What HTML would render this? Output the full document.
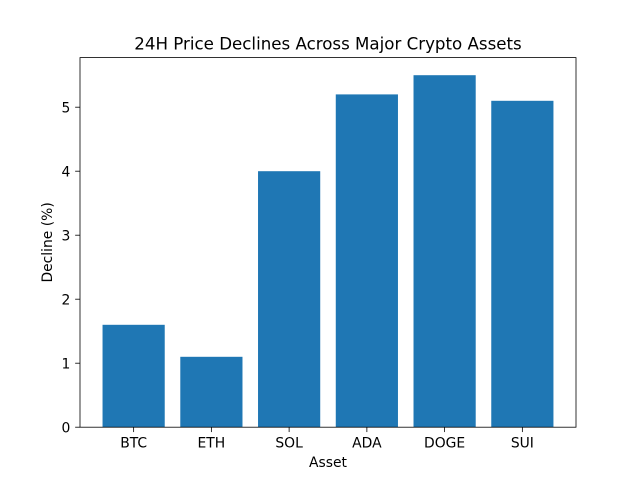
<!DOCTYPE html>
<html>
<head>
<meta charset="utf-8">
<style>
  html,body{margin:0;padding:0;background:#fff;}
  svg{display:block;}
  text{font-family:"DejaVu Sans","Liberation Sans",sans-serif;fill:#000;}
</style>
</head>
<body>
<svg width="640" height="480" viewBox="0 0 640 480" xmlns="http://www.w3.org/2000/svg">
  <rect x="0" y="0" width="640" height="480" fill="#fff"/>
  <!-- bars -->
  <g fill="#1f77b4">
    <rect x="102.54" y="324.8" width="62.19" height="102.4"/>
    <rect x="180.29" y="356.8" width="62.19" height="70.4"/>
    <rect x="258.03" y="171.2" width="62.19" height="256"/>
    <rect x="335.77" y="94.4" width="62.19" height="332.8"/>
    <rect x="413.52" y="75.2" width="62.19" height="352"/>
    <rect x="491.26" y="100.8" width="62.19" height="326.4"/>
  </g>
  <!-- axes frame -->
  <rect x="80" y="57.6" width="496" height="369.6" fill="none" stroke="#000" stroke-width="0.8"/>
  <!-- x ticks -->
  <g stroke="#000" stroke-width="0.8">
    <line x1="133.64" y1="427.2" x2="133.64" y2="432.06"/>
    <line x1="211.38" y1="427.2" x2="211.38" y2="432.06"/>
    <line x1="289.12" y1="427.2" x2="289.12" y2="432.06"/>
    <line x1="366.87" y1="427.2" x2="366.87" y2="432.06"/>
    <line x1="444.61" y1="427.2" x2="444.61" y2="432.06"/>
    <line x1="522.36" y1="427.2" x2="522.36" y2="432.06"/>
  </g>
  <g font-size="13.89" text-anchor="middle">
    <text x="133.64" y="447.5">BTC</text>
    <text x="211.38" y="447.5">ETH</text>
    <text x="289.12" y="447.5">SOL</text>
    <text x="366.87" y="447.5">ADA</text>
    <text x="444.61" y="447.5">DOGE</text>
    <text x="522.36" y="447.5">SUI</text>
  </g>
  <!-- y ticks -->
  <g stroke="#000" stroke-width="0.8">
    <line x1="75.14" y1="427.2" x2="80" y2="427.2"/>
    <line x1="75.14" y1="363.2" x2="80" y2="363.2"/>
    <line x1="75.14" y1="299.2" x2="80" y2="299.2"/>
    <line x1="75.14" y1="235.2" x2="80" y2="235.2"/>
    <line x1="75.14" y1="171.2" x2="80" y2="171.2"/>
    <line x1="75.14" y1="107.2" x2="80" y2="107.2"/>
  </g>
  <g font-size="13.89" text-anchor="end">
    <text x="70.3" y="432.5">0</text>
    <text x="70.3" y="368.5">1</text>
    <text x="70.3" y="304.5">2</text>
    <text x="70.3" y="240.5">3</text>
    <text x="70.3" y="176.5">4</text>
    <text x="70.3" y="112.5">5</text>
  </g>
  <!-- axis labels -->
  <text x="328" y="467" font-size="13.89" text-anchor="middle">Asset</text>
  <text transform="translate(52,242.4) rotate(-90)" font-size="13.89" text-anchor="middle">Decline (%)</text>
  <!-- title -->
  <text x="328" y="49.3" font-size="16.67" text-anchor="middle">24H Price Declines Across Major Crypto Assets</text>
</svg>
</body>
</html>
